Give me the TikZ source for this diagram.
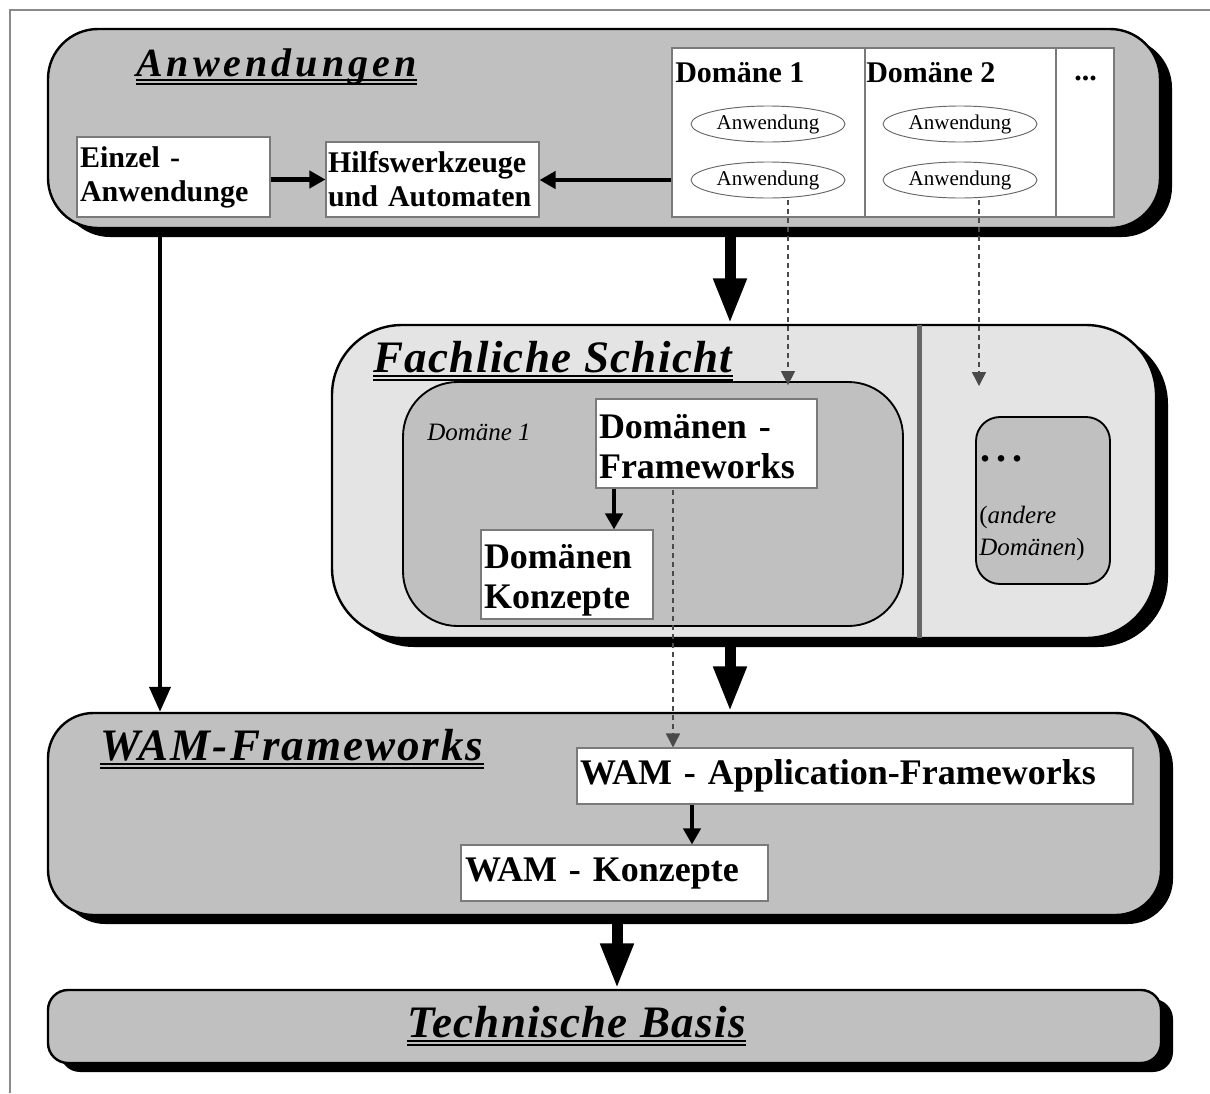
\documentclass[tikz,border=0pt]{standalone}
\usepackage{fontspec}
\setmainfont{Liberation Serif}
\usetikzlibrary{arrows.meta,shadows,shapes.geometric}
\definecolor{layergray}{HTML}{C0C0C0}
\definecolor{lightlayer}{HTML}{E4E4E4}
\definecolor{framegray}{HTML}{8A8A8A}
\definecolor{edgegray}{HTML}{7A7A7A}
\definecolor{dashgray}{HTML}{4A4A4A}
\definecolor{dividergray}{HTML}{666666}

\tikzset{
  pxbox/.style 2 args={minimum width=#1*0.75pt, minimum height=#2*0.75pt},
  layer/.style={draw=black, line width=1.8pt, fill=layergray, inner sep=0pt,
    drop shadow={shadow xshift=9pt, shadow yshift=-6.75pt, opacity=1, fill=black}},
  sublayer/.style={draw=black, line width=1.4pt, fill=layergray, inner sep=0pt},
  wbox/.style={draw=edgegray, line width=0.8pt, fill=white, inner ysep=0pt, align=left},
  appell/.style={ellipse, draw=dividergray, line width=0.7pt, fill=white, inner sep=0pt,
    font=\fontsize{15.75}{18}\selectfont},
  heading/.style={inner sep=0pt, anchor=base west, font=\fontsize{22.5}{25.5}\selectfont\bfseries},
  layertitle/.style={inner sep=0pt, anchor=base west},
  uline/.style={line width=1.2pt, line cap=butt},
  bigarrow/.style={line width=8.25pt, -{Triangle[length=34pt,width=23pt]}},
  medarrow/.style={line width=3.6pt, -{Triangle[length=12pt,width=12.75pt]}},
  longarrow/.style={line width=3pt, -{Triangle[length=18.75pt,width=15.75pt]}},
  dasharrow/.style={draw=dashgray, line width=1.1pt, dash pattern=on 3.75pt off 3pt,
    -{Triangle[length=10.5pt,width=10.5pt,fill=dashgray]}},
}

\newcommand{\titlefont}[1]{\fontsize{#1}{#1}\selectfont\bfseries\itshape}

\begin{document}
\begin{tikzpicture}[x=0.75pt, y=-0.75pt]
\useasboundingbox (0,0) rectangle (1210,1093);

% page frame
\draw[framegray, line width=1.1pt] (10,1093) -- (10,10) -- (1210,10);

% ---------- layers ----------
\node[layer, pxbox={1112}{199}, rounded corners=37.5pt] (L1) at (604,128.5) {};
\node[layer, fill=lightlayer, pxbox={824}{313}, rounded corners=52.5pt] (L2) at (744,481.5) {};
\node[layer, pxbox={1113}{202}, rounded corners=34pt] (L3) at (604.5,814) {};
\node[layer, pxbox={1113}{73}, rounded corners=15pt] (L4) at (604.5,1026.5) {};

% ---------- Anwendungen ----------
\node[layertitle, font={\titlefont{30pt}\addfontfeature{LetterSpace=10}}] (t1) at (136,76) {Anwendungen};
\draw[uline] ([yshift=-3pt]t1.base west) -- ([yshift=-3pt]t1.base east);
\draw[uline] ([yshift=-6pt]t1.base west) -- ([yshift=-6pt]t1.base east);

\node[wbox, pxbox={193}{80}, text width=140.25pt, inner xsep=2.25pt,
      font=\fontsize{22.5}{25.5}\selectfont\bfseries] (ein) at (173.5,177) {Einzel -\\Anwendunge};
\node[wbox, pxbox={213}{75}, text width=156.75pt, inner xsep=1.5pt,
      font=\fontsize{22.5}{25.5}\selectfont\bfseries] (hilf) at (432.5,179.5) {Hilfswerkzeuge\\und Automaten};

% domain table
\node[draw=edgegray, line width=0.9pt, fill=white, pxbox={442}{169}, inner sep=0pt] (tab) at (893,132.5) {};
\coordinate (colA) at (865,0);
\coordinate (colB) at (1056,0);
\draw[edgegray, line width=0.9pt] (tab.north -| colA) -- (tab.south -| colA);
\draw[edgegray, line width=0.9pt] (tab.north -| colB) -- (tab.south -| colB);
\node[heading] (h1) at (675,82) {Domäne 1};
\node[heading] (h2) at (866,82) {Domäne 2};
\node[heading] (h3) at (1074,80) {...};
\node[appell, pxbox={154}{36}] (a1) at (768,124) {Anwendung};
\node[appell, pxbox={154}{36}] (a2) at (768,180) {Anwendung};
\node[appell, pxbox={154}{36}] (b1) at (960,124) {Anwendung};
\node[appell, pxbox={154}{36}] (b2) at (960,180) {Anwendung};

% ---------- Fachliche Schicht ----------
\coordinate (div) at (919,0);
\draw[dividergray, line width=3.75pt] ([yshift=-1pt]div |- L2.north) -- ([yshift=1pt]div |- L2.south);

\node[layertitle, font={\titlefont{33.75pt}\addfontfeature{LetterSpace=3}}] (t2) at (373,372) {Fachliche Schicht};
\draw[uline] ([yshift=-3pt]t2.base west) -- ([yshift=-3pt]t2.base east);
\draw[uline] ([yshift=-6pt]t2.base west) -- ([yshift=-6pt]t2.base east);

\node[sublayer, pxbox={500}{244}, rounded corners=41pt] (dom) at (653,504) {};
\node[layertitle, font=\fontsize{18.75}{20}\selectfont\itshape] (domlbl) at (427,440) {Domäne 1};

\node[wbox, pxbox={221}{89}, text width=161.25pt, inner xsep=2.25pt,
      text height=18pt, text depth=26.25pt,
      font=\fontsize{27}{30}\selectfont\bfseries] (df) at (706.5,443.5) {Domänen -\\Frameworks};
\node[wbox, pxbox={172}{89}, text width=124.5pt, inner xsep=2.25pt,
      text height=18pt, text depth=27.75pt,
      font=\fontsize{27}{30}\selectfont\bfseries] (dk) at (567,574.5) {Domänen\\Konzepte};

\node[sublayer, pxbox={134}{167}, rounded corners=18pt] (other) at (1043,500.5) {};
\node[layertitle, font=\fontsize{30}{30}\selectfont\bfseries] (dots) at (980,461)
  {.\hspace{4.6pt}.\hspace{4.6pt}.};
\node[layertitle, align=left, font=\fontsize{18.75}{24}\selectfont] (otherlbl) at (979,555)
  {(\textit{andere}\\\textit{Domänen})};

% ---------- WAM-Frameworks ----------
\node[layertitle, font={\titlefont{33.75pt}\addfontfeature{LetterSpace=4.5}}] (t3) at (100,760) {WAM-Frameworks};
\draw[uline] ([yshift=-3pt]t3.base west) -- ([yshift=-3pt]t3.base east);
\draw[uline] ([yshift=-6pt]t3.base west) -- ([yshift=-6pt]t3.base east);

\node[wbox, pxbox={556}{56}, text width=412.5pt, inner xsep=2.25pt,
      font=\fontsize{27}{30}\selectfont\bfseries] (app) at (855,776) {WAM - Application-Frameworks};
\node[wbox, pxbox={307}{56}, text width=224.25pt, inner xsep=3pt,
      font=\fontsize{27}{30}\selectfont\bfseries] (konz) at (614.5,873) {WAM - Konzepte};

% ---------- Technische Basis ----------
\node[layertitle, font={\titlefont{33.75pt}\addfontfeature{LetterSpace=3}}] (t4) at (407,1037) {Technische Basis};
\draw[uline] ([yshift=-3pt]t4.base west) -- ([yshift=-3pt]t4.base east);
\draw[uline] ([yshift=-6pt]t4.base west) -- ([yshift=-6pt]t4.base east);

% ---------- connectors ----------
\coordinate (xBig) at (730,0);
\coordinate (xBase) at (617,0);
\coordinate (xLeft) at (160,0);
\coordinate (xDF) at (614,0);
\coordinate (xApp) at (692,0);
\coordinate (xD1) at (788,0);
\coordinate (xD2) at (979,0);
\coordinate (xFw) at (673,0);
\coordinate (d2end) at (979,386);

\draw[medarrow] (ein.east |- hilf.west) -- (hilf.west);
\draw[medarrow] (tab.west |- a2) -- (hilf.east |- a2);

\draw[bigarrow] (xBig |- L1.south) -- (xBig |- L2.north);
\draw[bigarrow] (xBig |- L2.south) -- (xBig |- L3.north);
\draw[bigarrow] (xBase |- L3.south) -- (xBase |- L4.north);
\draw[longarrow] (xLeft |- L1.south) -- (xLeft |- L3.north);

\draw[medarrow] (xDF |- df.south) -- (xDF |- dk.north);
\draw[medarrow] (xApp |- app.south) -- (xApp |- konz.north);

\draw[dasharrow] ([yshift=-1pt]xD1 |- a2.south) -- ([yshift=-3pt]xD1 |- dom.north);
\draw[dasharrow] ([yshift=-1pt]xD2 |- b2.south) -- (d2end);
\draw[dasharrow] ([yshift=-1pt]xFw |- df.south) -- (xFw |- app.north);
\end{tikzpicture}
\end{document}
